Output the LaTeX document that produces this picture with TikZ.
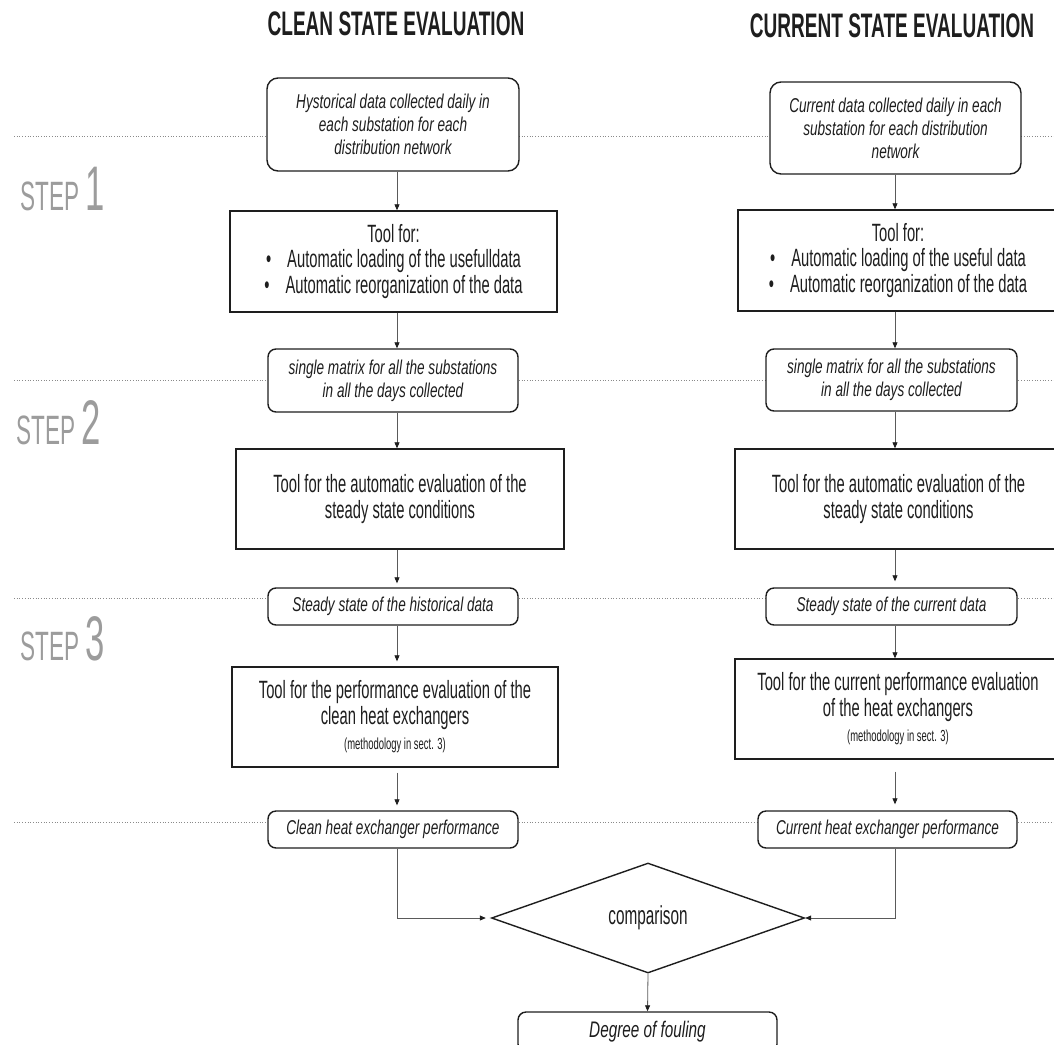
\documentclass[tikz,border=0pt]{standalone}
\usepackage{fontspec}
\setmainfont{Liberation Sans}[FakeStretch=0.59]
\newfontfamily\itf{Liberation Sans}[FakeStretch=0.68]
\newfontfamily\ttlf{Liberation Sans}[FakeStretch=0.56]
\newfontfamily\stepf{Liberation Sans}[FakeStretch=0.55]
\usetikzlibrary{arrows.meta,shapes.geometric,calc}
\definecolor{stepgray}{HTML}{9C9C9C}
\definecolor{ink}{HTML}{1E1E1E}
\definecolor{dotgray}{HTML}{8A8A8A}
\definecolor{linegray}{HTML}{5A5A5A}
\begin{document}
\begin{tikzpicture}[x=1pt,y=-1pt,
  title/.style={font=\ttlf\bfseries\fontsize{34}{34}\selectfont, text=ink, inner sep=0},
  steplab/.style={text=stepgray, inner sep=0, anchor=base west, font=\stepf},
  rbox/.style={draw=ink, line width=1.4pt, fill=white, rounded corners=8pt, align=center, inner sep=0, font=\itf\itshape\fontsize{20}{23}\selectfont, text=ink},
  tbox/.style={draw=ink, line width=1.4pt, fill=white, align=center, inner sep=0, font=\fontsize{25}{25.5}\selectfont, text=ink},
  sepline/.style={dotgray, dotted, line width=0.7pt},
  arr/.style={linegray, line width=0.8pt, -{Triangle[length=6pt,width=5pt,color=ink]}},
]
\useasboundingbox (0,0) rectangle (1054,1044);
\clip (0,0) rectangle (1054,1044);

% titles
\node[title] (ttlL) at (396,24) {CLEAN STATE EVALUATION};
\node[title] (ttlR) at (892,26) {CURRENT STATE EVALUATION};

% step separators
\draw[sepline] (14,136) -- (1054,136);
\draw[sepline] (14,380) -- (1054,380);
\draw[sepline] (14,598) -- (1054,598);
\draw[sepline] (14,822) -- (1054,822);

% step labels
\node[steplab] (s1) at (20,210) {\fontsize{41}{41}\selectfont STEP\hspace{6pt}\fontsize{63}{63}\selectfont 1};
\node[steplab] (s2) at (16,444) {\fontsize{41}{41}\selectfont STEP\hspace{6pt}\fontsize{63}{63}\selectfont 2};
\node[steplab] (s3) at (20,660) {\fontsize{41}{41}\selectfont STEP\hspace{6pt}\fontsize{63}{63}\selectfont 3};

\coordinate (xL) at (397,0);
\coordinate (xR) at (895,0);

% left column
\node[rbox, rounded corners=11pt, minimum width=252pt, minimum height=93pt] (aL) at (393,124.5)
  {Hystorical data collected daily in\\ each substation for each\\ distribution network};
\node[tbox, minimum width=327pt, minimum height=101pt] (bL) at (393.5,261.5)
  {Tool for:\\ \textbullet\hspace{16pt}Automatic loading of the usefulldata\\ \textbullet\hspace{16pt}Automatic reorganization of the data};
\node[rbox, minimum width=250pt, minimum height=63pt] (cL) at (393,380.5)
  {single matrix for all the substations\\ in all the days collected};
\node[tbox, minimum width=328pt, minimum height=100pt] (dL) at (400,499)
  {Tool for the automatic evaluation of the\\ steady state conditions};
\node[rbox, minimum width=250pt, minimum height=37pt] (eL) at (393,606.5)
  {Steady state of the historical data};
\node[tbox, minimum width=326pt, minimum height=100pt] (fL) at (395,717)
  {Tool for the performance evaluation of the\\ clean heat exchangers\\ {\fontsize{16}{18}\selectfont (methodology in sect. 3)}};
\node[rbox, minimum width=250pt, minimum height=37pt] (gL) at (393,829.5)
  {Clean heat exchanger performance};

% right column
\node[rbox, rounded corners=11pt, minimum width=251pt, minimum height=92pt] (aR) at (895.5,128)
  {Current data collected daily in each\\ substation for each distribution\\ network};
\node[tbox, minimum width=320pt, minimum height=101pt] (bR) at (898,260.5)
  {Tool for:\\ \textbullet\hspace{16pt}Automatic loading of the useful data\\ \textbullet\hspace{16pt}Automatic reorganization of the data};
\node[rbox, minimum width=251pt, minimum height=62pt] (cR) at (891.5,380)
  {single matrix for all the substations\\ in all the days collected};
\node[tbox, minimum width=327pt, minimum height=100pt] (dR) at (898.5,499)
  {Tool for the automatic evaluation of the\\ steady state conditions};
\node[rbox, minimum width=251pt, minimum height=37pt] (eR) at (891.5,606.5)
  {Steady state of the current data};
\node[tbox, minimum width=326pt, minimum height=100pt] (fR) at (898,709)
  {Tool for the current performance evaluation\\ of the heat exchangers\\ {\fontsize{16}{18}\selectfont (methodology in sect. 3)}};
\node[rbox, minimum width=259pt, minimum height=37pt] (gR) at (887.5,829.5)
  {Current heat exchanger performance};

% comparison and result
\node[diamond, draw=ink, line width=1.4pt, fill=white, inner sep=0, aspect=2.85,
  minimum width=313pt, minimum height=110pt, font=\fontsize{26}{26}\selectfont, text=ink] (cmp) at (648,918) {comparison};
\node[rbox, minimum width=259pt, minimum height=40pt, font=\itf\itshape\fontsize{22.5}{23}\selectfont] (deg) at (647.5,1032)
  {Degree of fouling};

% connectors left
\draw[arr] (aL.south -| xL) -- (bL.north -| xL);
\draw[arr] (bL.south -| xL) -- (cL.north -| xL);
\draw[arr] (cL.south -| xL) -- (dL.north -| xL);
\draw[arr, shorten >=4pt] (dL.south -| xL) -- (eL.north -| xL);
\draw[arr, shorten >=5pt] (eL.south -| xL) -- (fL.north -| xL);
\draw[arr, shorten <=5pt, shorten >=5pt] (fL.south -| xL) -- (gL.north -| xL);
% connectors right
\draw[arr] (aR.south -| xR) -- (bR.north -| xR);
\draw[arr] (bR.south -| xR) -- (cR.north -| xR);
\draw[arr] (cR.south -| xR) -- (dR.north -| xR);
\draw[arr, shorten >=6pt] (dR.south -| xR) -- (eR.north -| xR);
\draw[arr] (eR.south -| xR) -- (fR.north -| xR);
\draw[arr, shorten <=12pt, shorten >=6pt] (fR.south -| xR) -- (gR.north -| xR);
% merge
\draw[arr, shorten >=5pt] (gL.south -| xL) |- (cmp.west);
\draw[arr] (gR.south -| xR) |- (cmp.east);
\draw[arr] (cmp.south) -- (deg.north);
\end{tikzpicture}
\end{document}
